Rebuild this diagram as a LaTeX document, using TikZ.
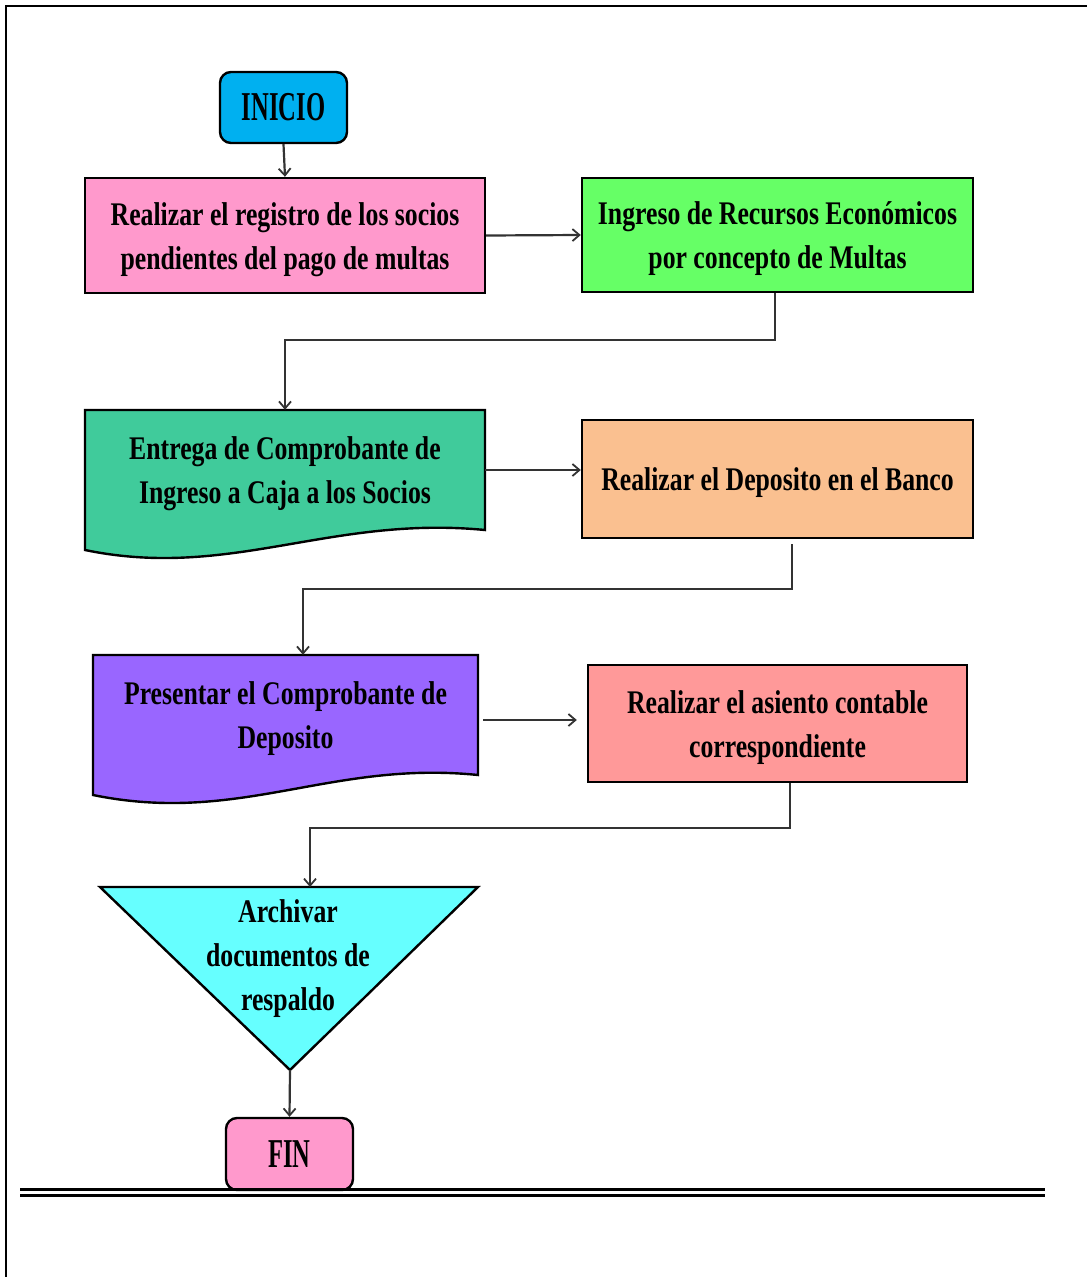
\documentclass[tikz,border=0pt]{standalone}
\usepackage{fontspec}
\setmainfont{Liberation Serif}[FakeStretch=0.78]
\newfontfamily\termfont{Liberation Serif}[FakeStretch=0.6]
\usetikzlibrary{arrows.meta,calc}

\definecolor{cInicio}{HTML}{00B0F0}
\definecolor{cPink}{HTML}{FF99CC}
\definecolor{cGreen}{HTML}{66FF66}
\definecolor{cTeal}{HTML}{40CB9B}
\definecolor{cOrange}{HTML}{FAC090}
\definecolor{cPurple}{HTML}{9966FF}
\definecolor{cSalmon}{HTML}{FF9999}
\definecolor{cCyan}{HTML}{66FFFF}
\definecolor{cLine}{HTML}{333333}

% taller first line, so that box texts sit a little lower
\newcommand{\toprule}{\rule{0pt}{31pt}}

\tikzset{
  txt/.style={align=center, inner sep=0pt,
    font=\fontsize{33}{44}\selectfont\bfseries},
  procbox/.style={txt, draw=black, line width=2.4pt},
  docbox/.style={txt, draw=none},
  docshape/.style={draw=black, line width=2.4pt},
  term/.style={draw=black, line width=2.4pt, rounded corners=11pt,
    inner sep=0pt, font=\termfont\fontsize{41}{44}\selectfont\bfseries},
  arr/.style={draw=cLine, line width=2.2pt,
    -{Straight Barb[length=7pt,width=12pt,line width=1.8pt]}},
}

\begin{document}
\begin{tikzpicture}[x=1pt,y=-1pt]
\useasboundingbox (0,0) rectangle (1087,1277);

% page frame (left and top edges)
\draw[line width=2.5pt] (6,1277) -- (6,6) -- (1087,6);

% start terminal
\node[term, fill=cInicio, minimum width=127pt, minimum height=71pt]
  (ini) at (283.5,107.5) {INICIO};

% first row
\node[procbox, fill=cPink, minimum width=400pt, minimum height=115pt]
  (b1) at (285,235.5) {\toprule Realizar el registro de los socios\\pendientes del pago de multas};
\node[procbox, fill=cGreen, minimum width=391pt, minimum height=114pt]
  (b2) at (777.5,235) {\toprule Ingreso de Recursos Económicos\\por concepto de Multas};

% second row: document shape and box
\draw[docshape, fill=cTeal] (85,410) -- (485,410) -- (485,530)
  .. controls (330,515) and (230,580) .. (85,550) -- cycle;
\node[docbox, minimum width=400pt, minimum height=120pt]
  (b3) at (285,470) {\toprule Entrega de Comprobante de\\Ingreso a Caja a los Socios};
\node[procbox, fill=cOrange, minimum width=391pt, minimum height=118pt]
  (b4) at (777.5,479) {\toprule Realizar el Deposito en el Banco};

% third row: document shape and box
\draw[docshape, fill=cPurple] (93,655) -- (478,655) -- (478,775)
  .. controls (330,760) and (240,825) .. (93,795) -- cycle;
\node[docbox, minimum width=385pt, minimum height=120pt]
  (b5) at (285.5,715) {\toprule Presentar el Comprobante de\\Deposito};
\node[procbox, fill=cSalmon, minimum width=379pt, minimum height=117pt]
  (b6) at (777.5,723.5) {\toprule Realizar el asiento contable\\correspondiente};

% archive triangle
\draw[docshape, fill=cCyan] (100,887) -- (478,887) -- (290,1070) -- cycle;
\coordinate (tritop) at (289,887);
\coordinate (triapex) at (290,1070);
\node[txt] (tri) at (288,959) {Archivar\\documentos de\\respaldo};

% end terminal
\node[term, fill=cPink, minimum width=127pt, minimum height=72pt]
  (fin) at (289.5,1154) {FIN};

% bottom double rule
\fill[black] (20,1188) rectangle (1045,1191);
\fill[black] (20,1193.5) rectangle (1045,1196.5);

% connectors
\draw[arr] (ini.south) -- (b1.north);
\draw[arr] (b1.east) -- (b2.west);
\draw[arr] ([xshift=-2.5pt]b2.south) -- ++(0,47) -| (b3.north);
\draw[arr] (b3.east) -- (b3.east -| b4.west);
\draw[arr] ([xshift=14.5pt,yshift=-5pt]b4.south) -- ++(0,45) -| ([xshift=17.5pt]b5.north);
\coordinate (p5) at ([xshift=5pt,yshift=-5pt]b5.east);
\draw[arr, shorten >=10pt] (p5) -- (p5 -| b6.west);
\draw[arr] ([xshift=12.5pt]b6.south) -- ++(0,45) -| ([xshift=21pt]tritop);
\draw[arr] (triapex) -- (fin.north);
\end{tikzpicture}
\end{document}
